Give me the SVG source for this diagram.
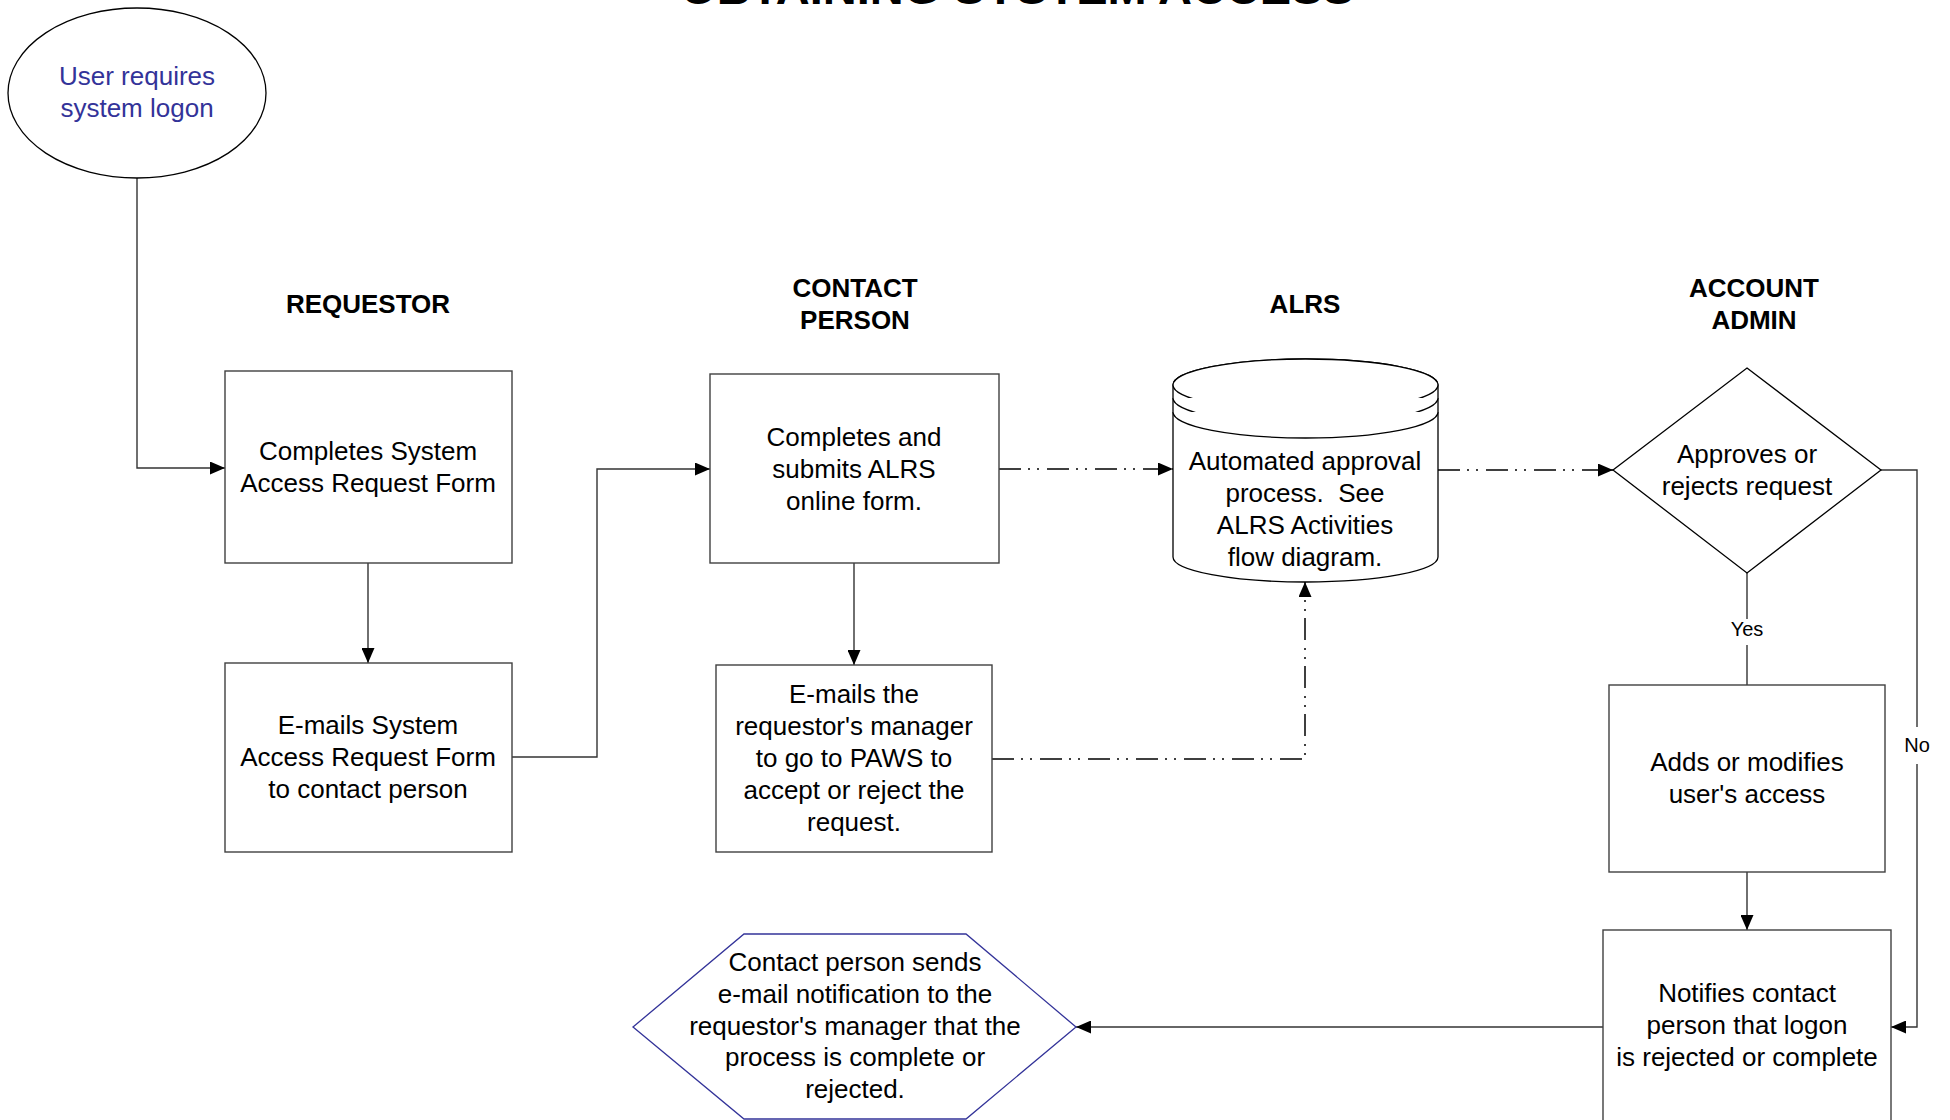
<svg xmlns="http://www.w3.org/2000/svg" width="1950" height="1120" viewBox="0 0 1950 1120">
<style>
.bg{fill:#fff}
.box{fill:#fff;stroke:#404040;stroke-width:1.4}
.shape{fill:#fff;stroke:#000;stroke-width:1.3}
.hex{fill:#fff;stroke:#333399;stroke-width:1.3}
.t{font-family:"Liberation Sans",Arial,sans-serif;font-size:26px;fill:#000;text-anchor:middle}
.blue{fill:#333399}
.h{font-family:"Liberation Sans",Arial,sans-serif;font-size:26px;font-weight:bold;fill:#000;text-anchor:middle}
.title{font-family:"Liberation Sans",Arial,sans-serif;font-size:47px;font-weight:bold;fill:#000;text-anchor:middle}
.lbl{font-family:"Liberation Sans",Arial,sans-serif;font-size:20px;fill:#000;text-anchor:middle}
.c{fill:none;stroke:#333;stroke-width:1.4}
.dd{fill:none;stroke:#000;stroke-width:1.5;stroke-dasharray:22 7 2 7 2 8}
</style>
<defs>
<marker id="arr" viewBox="0 0 15 13" refX="15" refY="6.5" markerWidth="15" markerHeight="13" markerUnits="userSpaceOnUse" orient="auto">
<path d="M0,0 L15,6.5 L0,13 Z" fill="#000"/>
</marker>
</defs>
<rect class="bg" x="0" y="0" width="1950" height="1120"/>

<text class="title" x="1017" y="4">OBTAINING SYSTEM ACCESS</text>

<g id="headers">
<text class="h" x="368" y="313">REQUESTOR</text>
<text class="h" x="855" y="297">CONTACT</text>
<text class="h" x="855" y="329">PERSON</text>
<text class="h" x="1305" y="313">ALRS</text>
<text class="h" x="1754" y="297">ACCOUNT</text>
<text class="h" x="1754" y="329">ADMIN</text>
</g>

<g id="connectors">
<polyline class="c" points="137,178 137,468 225,468" marker-end="url(#arr)"/>
<line class="c" x1="368" y1="563" x2="368" y2="663" marker-end="url(#arr)"/>
<polyline class="c" points="512,757 597,757 597,469 710,469" marker-end="url(#arr)"/>
<line class="c" x1="854" y1="563" x2="854" y2="665" marker-end="url(#arr)"/>
<line class="dd" x1="999" y1="469" x2="1173" y2="469" marker-end="url(#arr)"/>
<polyline class="dd" points="992,759 1305,759 1305,582" marker-end="url(#arr)"/>
<line class="dd" x1="1438" y1="470" x2="1613" y2="470" marker-end="url(#arr)"/>
<line class="c" x1="1747" y1="573" x2="1747" y2="619"/>
<line class="c" x1="1747" y1="645" x2="1747" y2="685"/>
<text class="lbl" x="1747" y="636">Yes</text>
<polyline class="c" points="1880,470 1917,470 1917,727"/>
<polyline class="c" points="1917,764 1917,1027 1891,1027" marker-end="url(#arr)"/>
<text class="lbl" x="1917" y="752">No</text>
<line class="c" x1="1747" y1="872" x2="1747" y2="930" marker-end="url(#arr)"/>
<line class="c" x1="1603" y1="1027" x2="1076" y2="1027" marker-end="url(#arr)"/>
</g>

<g id="start">
<ellipse class="shape" cx="137" cy="93" rx="129" ry="85"/>
<text class="t blue" x="137" y="85">User requires</text>
<text class="t blue" x="137" y="117">system logon</text>
</g>

<g id="box1">
<rect class="box" x="225" y="371" width="287" height="192"/>
<text class="t" x="368" y="460">Completes System</text>
<text class="t" x="368" y="492">Access Request Form</text>
</g>

<g id="box2">
<rect class="box" x="225" y="663" width="287" height="189"/>
<text class="t" x="368" y="734">E-mails System</text>
<text class="t" x="368" y="766">Access Request Form</text>
<text class="t" x="368" y="798">to contact person</text>
</g>

<g id="box3">
<rect class="box" x="710" y="374" width="289" height="189"/>
<text class="t" x="854" y="446">Completes and</text>
<text class="t" x="854" y="478">submits ALRS</text>
<text class="t" x="854" y="510">online form.</text>
</g>

<g id="box4">
<rect class="box" x="716" y="665" width="276" height="187"/>
<text class="t" x="854" y="703">E-mails the</text>
<text class="t" x="854" y="735">requestor's manager</text>
<text class="t" x="854" y="767">to go to PAWS to</text>
<text class="t" x="854" y="799">accept or reject the</text>
<text class="t" x="854" y="831">request.</text>
</g>

<g id="alrs">
<path class="shape" d="M1173,385 L1173,557 A132.5,25 0 0 0 1438,557 L1438,385 A132.5,26 0 0 0 1173,385 Z"/>
<ellipse class="shape" cx="1305.5" cy="385" rx="132.5" ry="26" fill="none"/>
<path class="shape" fill="none" d="M1173,398 A132.5,26 0 0 0 1438,398"/>
<path class="shape" fill="none" d="M1173,412 A132.5,26 0 0 0 1438,412"/>
<text class="t" x="1305" y="470">Automated approval</text>
<text class="t" x="1305" y="502">process.&#160; See</text>
<text class="t" x="1305" y="534">ALRS Activities</text>
<text class="t" x="1305" y="566">flow diagram.</text>
</g>

<g id="decision">
<polygon class="shape" points="1747,368 1881,470 1747,573 1613,470"/>
<text class="t" x="1747" y="463">Approves or</text>
<text class="t" x="1747" y="495">rejects request</text>
</g>

<g id="box5">
<rect class="box" x="1609" y="685" width="276" height="187"/>
<text class="t" x="1747" y="771">Adds or modifies</text>
<text class="t" x="1747" y="803">user's access</text>
</g>

<g id="box6">
<rect class="box" x="1603" y="930" width="288" height="193"/>
<text class="t" x="1747" y="1002">Notifies contact</text>
<text class="t" x="1747" y="1034">person that logon</text>
<text class="t" x="1747" y="1066">is rejected or complete</text>
</g>

<g id="end">
<polygon class="hex" points="633,1027 744,934 966,934 1076,1027 966,1119 744,1119"/>
<text class="t" x="855" y="971">Contact person sends</text>
<text class="t" x="855" y="1003">e-mail notification to the</text>
<text class="t" x="855" y="1035">requestor's manager that the</text>
<text class="t" x="855" y="1066">process is complete or</text>
<text class="t" x="855" y="1098">rejected.</text>
</g>
</svg>
